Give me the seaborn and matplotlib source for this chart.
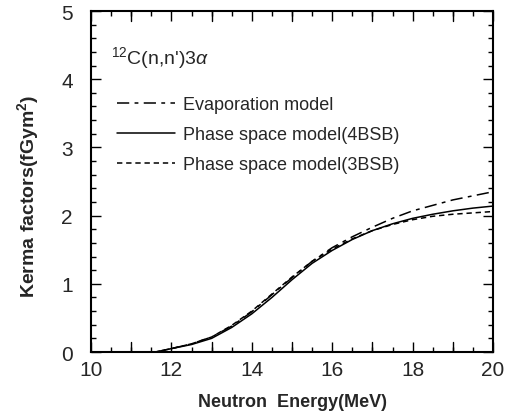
import matplotlib
matplotlib.use("Agg")
import matplotlib.pyplot as plt
import seaborn as sns
import numpy as np
import pandas as pd
from matplotlib.ticker import MultipleLocator

# Neutron energy grid (MeV)
energy = [10.0, 11.0, 11.6, 12.0, 12.5, 13.0, 13.5, 14.0, 14.5, 15.0, 15.5,
          16.0, 16.5, 17.0, 17.5, 18.0, 18.5, 19.0, 19.5, 20.0]

# Kerma factors (fGy m^2) for each model
evaporation = [0.0, 0.0, 0.0, 0.05, 0.12, 0.22, 0.38, 0.59, 0.84, 1.09, 1.33,
               1.53, 1.69, 1.83, 1.96, 2.07, 2.15, 2.23, 2.29, 2.35]
phase_4bsb = [0.0, 0.0, 0.0, 0.05, 0.11, 0.20, 0.36, 0.56, 0.80, 1.06, 1.30,
              1.49, 1.65, 1.78, 1.88, 1.96, 2.02, 2.07, 2.11, 2.14]
phase_3bsb = [0.0, 0.0, 0.0, 0.05, 0.12, 0.22, 0.39, 0.60, 0.85, 1.10, 1.33,
              1.51, 1.66, 1.78, 1.87, 1.94, 1.99, 2.02, 2.04, 2.06]

labels = ["Evaporation model", "Phase space model(4BSB)", "Phase space model(3BSB)"]
dash_patterns = [(8, 3.5, 2.5, 3.5), None, (3.5, 2.5)]

sns.set_style("ticks")
plt.rcParams["font.family"] = ["Liberation Sans", "DejaVu Sans"]
plt.rcParams["mathtext.fontset"] = "custom"
plt.rcParams["mathtext.rm"] = "Liberation Sans"
plt.rcParams["mathtext.it"] = "Liberation Sans:italic"
plt.rcParams["mathtext.bf"] = "Liberation Sans:bold"

fig = plt.figure(figsize=(5.07, 4.14), dpi=100)
ax = fig.add_axes([0.1795, 0.1473, 0.7929, 0.8237])

for series, lab, dash in zip([evaporation, phase_4bsb, phase_3bsb], labels, dash_patterns):
    sns.lineplot(x=energy, y=series, ax=ax, color="black", linewidth=1.1, label=lab)
    line = ax.get_lines()[-1]
    if dash is None:
        line.set_linestyle("-")
    else:
        line.set_dashes(dash)

ax.set_xlim(10, 20)
ax.set_ylim(0, 5)
ax.xaxis.set_major_locator(MultipleLocator(2))
ax.xaxis.set_minor_locator(MultipleLocator(0.5))
ax.yaxis.set_major_locator(MultipleLocator(1))
ax.yaxis.set_minor_locator(MultipleLocator(0.2))

# Integer energies get full-length ticks on top of the half-MeV minor ticks
for e in range(11, 20, 2):
    ax.axvline(e, ymin=0, ymax=0.028, color="black", lw=1.0)
    ax.axvline(e, ymin=0.972, ymax=1, color="black", lw=1.0)

for side in ax.spines.values():
    side.set_linewidth(1.5)
    side.set_color("black")
ax.tick_params(which="both", direction="in", top=True, right=True, color="black")
ax.tick_params(which="major", length=7, width=1.0, labelsize=15)
ax.tick_params(axis="x", which="major", pad=6)
ax.tick_params(axis="y", which="major", pad=13)
ax.tick_params(which="minor", length=3.5, width=1.0)

ax.set_xlabel("Neutron  Energy(MeV)", fontsize=13, fontweight="bold", labelpad=10)
ax.set_ylabel("Kerma factors(fGym$^{\\mathbf{2}}$)", fontsize=14, fontweight="bold")
ax.yaxis.set_label_coords(-0.125, 0.46)

ax.text(0.05, 0.865, "$^{12}$C(n,n')3$\\mathit{\\alpha}$", transform=ax.transAxes,
        fontsize=14, va="center", ha="left")

leg = ax.legend(loc="upper left", bbox_to_anchor=(0.047, 0.772), frameon=False,
                fontsize=13, handlelength=3.2, handletextpad=0.45, labelspacing=0.72,
                borderaxespad=0)

fig.savefig("out.png", dpi=100)
